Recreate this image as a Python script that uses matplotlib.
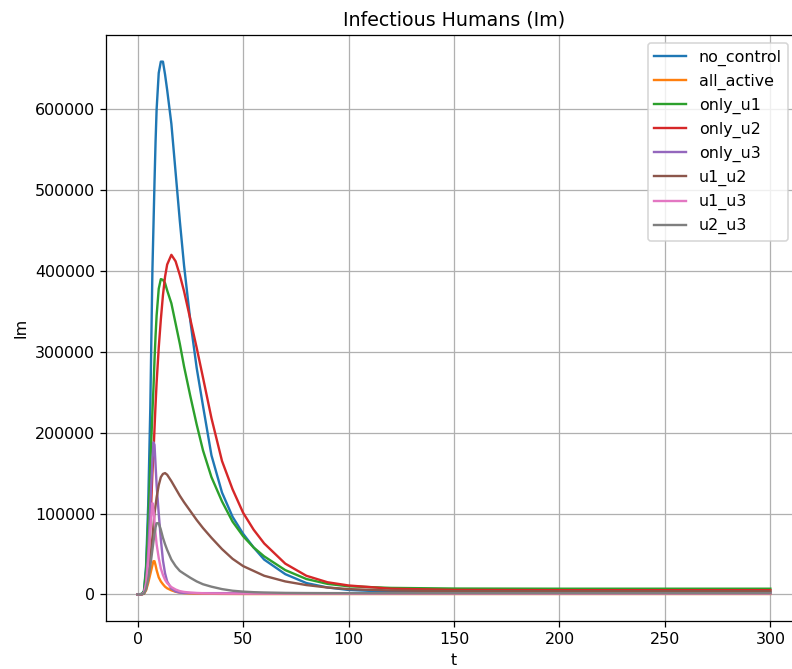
import matplotlib
matplotlib.use("Agg")
import matplotlib.pyplot as plt

t = [0, 2, 3, 4, 5, 6, 7, 7.5, 8, 8.5, 9, 10, 11, 12, 13, 14, 16, 18, 20, 22,
     25, 28, 31, 35, 40, 45, 50, 55, 60, 70, 80, 90, 100, 120, 150, 200, 250, 300]

no_control = [0, 500, 4000, 35000, 110000, 230000, 400000, 455000, 510000, 560000, 600000,
              645000, 659000, 659000, 643000, 624000, 582000, 522000, 462000, 407000,
              338000, 280000, 233000, 172000, 126000, 96000, 75000, 58000, 43000, 25000,
              14000, 8500, 5500, 3200, 2600, 2500, 2500, 2500]
all_active = [0, 100, 800, 5000, 14000, 25000, 36000, 41000, 41000, 36000, 30000,
              21000, 16000, 12500, 9500, 7500, 5000, 3200, 2200, 1600,
              1100, 900, 800, 700, 600, 550, 500, 500, 500, 500,
              500, 500, 500, 500, 500, 500, 500, 500]
only_u1 = [0, 500, 4000, 30000, 90000, 160000, 225000, 255000, 290000, 320000, 345000,
           378000, 390000, 389000, 385000, 376000, 360000, 335000, 310000, 282000,
           245000, 210000, 178000, 145000, 115000, 90000, 72000, 58000, 47000, 30000,
           19000, 13000, 10000, 8000, 7200, 7000, 7000, 7000]
only_u2 = [0, 200, 2000, 10000, 35000, 85000, 150000, 175000, 205000, 235000, 262000,
           305000, 340000, 370000, 393000, 408000, 420000, 412000, 395000, 375000,
           340000, 305000, 268000, 218000, 165000, 130000, 101000, 80000, 63000, 38000,
           23000, 15000, 11000, 7000, 5500, 5200, 5200, 5200]
only_u3 = [0, 200, 2000, 15000, 50000, 110000, 165000, 188000, 185000, 160000, 135000,
           100000, 68000, 42000, 26000, 16000, 7000, 3500, 2200, 1800,
           1600, 1500, 1500, 1500, 1500, 1500, 1500, 1500, 1500, 1500,
           1500, 1500, 1500, 1500, 1500, 1500, 1500, 1500]
u1_u2 = [0, 100, 1000, 8000, 25000, 45000, 70000, 85000, 100000, 110000, 120000,
         135000, 145000, 149000, 150000, 148000, 140000, 131000, 122000, 114000,
         103000, 92000, 82000, 70000, 56000, 44000, 35000, 29000, 23000, 16000,
         11500, 8500, 6500, 4800, 4000, 3800, 3800, 3800]
u1_u3 = [0, 200, 2000, 12000, 40000, 80000, 113000, 105000, 90000, 75000, 62000,
         45000, 32000, 24000, 18000, 14000, 9000, 6000, 4000, 3000,
         2200, 1700, 1400, 1200, 1100, 1000, 1000, 1000, 1000, 1000,
         1000, 1000, 1000, 1000, 1000, 1000, 1000, 1000]
u2_u3 = [0, 100, 1000, 6000, 18000, 35000, 55000, 65000, 75000, 83000, 88000,
         88000, 80000, 70000, 62000, 55000, 43000, 35000, 29000, 25500,
         20500, 16000, 12500, 9500, 6500, 4500, 3400, 2700, 2300, 1800,
         1600, 1500, 1500, 1500, 1500, 1500, 1500, 1500]

labels = ["no_control", "all_active", "only_u1", "only_u2", "only_u3", "u1_u2", "u1_u3", "u2_u3"]
series = [no_control, all_active, only_u1, only_u2, only_u3, u1_u2, u1_u3, u2_u3]

W, H = 792, 669
DPI = 114
fig = plt.figure(figsize=(W / DPI, H / DPI), dpi=DPI)
ax = fig.add_axes([106 / W, (H - 621) / H, 696 / W, (621 - 35) / H])

for lab, ys in zip(labels, series):
    ax.plot(t, ys, label=lab)

ax.set_title("Infectious Humans (Im)")
ax.set_xlabel("t")
ax.set_ylabel("Im")
ax.grid(True)
ax.legend(loc="upper right", bbox_to_anchor=(788 / W, 1 - 43 / H),
          bbox_transform=fig.transFigure, borderaxespad=0)

fig.savefig("out.png", dpi=DPI)
